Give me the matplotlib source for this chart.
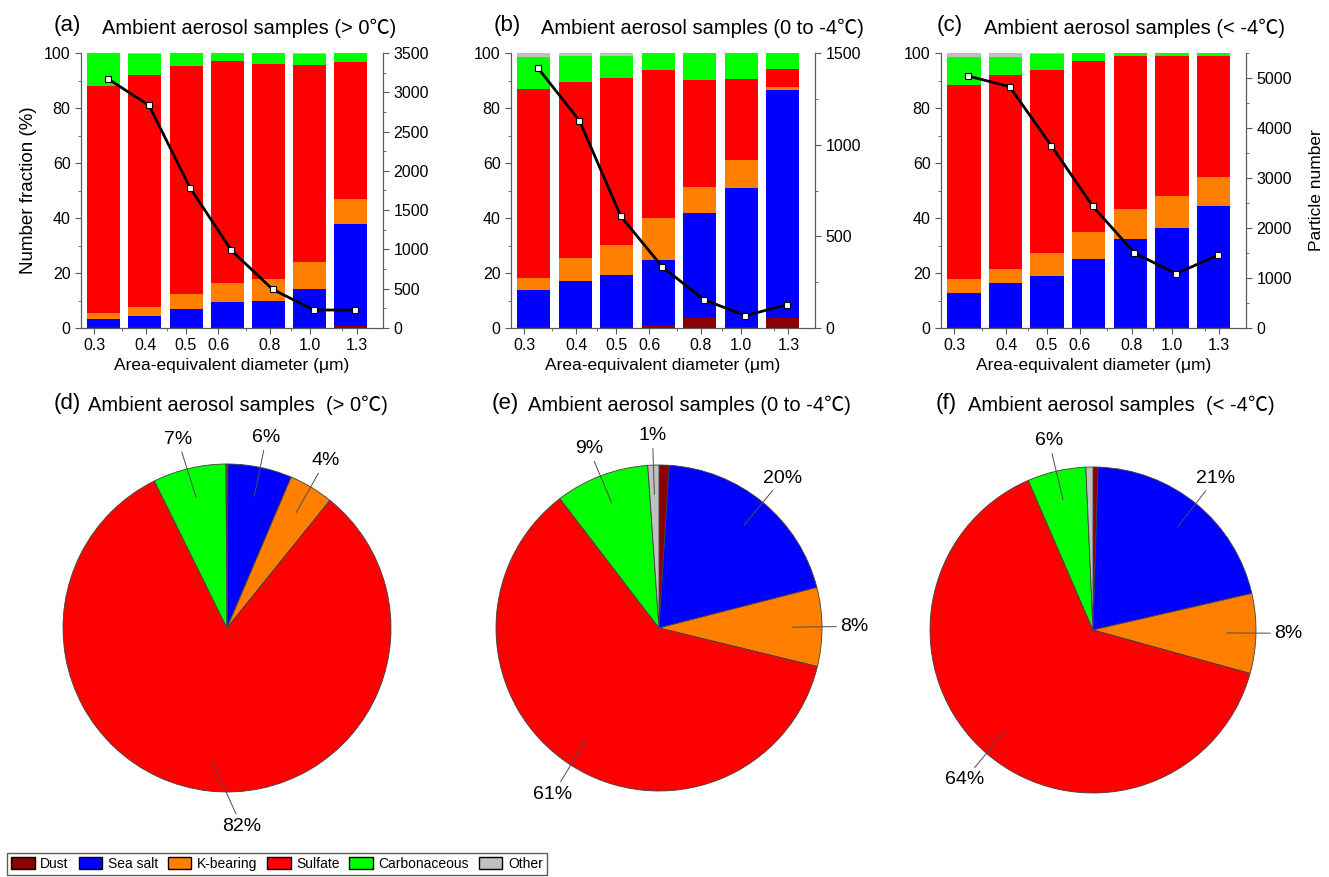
import numpy as np
import matplotlib
matplotlib.use('Agg')
import matplotlib.pyplot as plt
from matplotlib.patches import Patch
from matplotlib.ticker import MultipleLocator

plt.rcParams['font.family'] = ['Liberation Sans', 'Noto Sans CJK SC', 'DejaVu Sans']

components = ['Dust', 'Sea salt', 'K-bearing', 'Sulfate', 'Carbonaceous', 'Other']
colors = ['#8b0000', '#0000ff', '#ff8000', '#ff0000', '#00ff00', '#c0c0c0']

diam_labels = ['0.3', '0.4', '0.5', '0.6', '0.8', '1.0', '1.3']
diam_ticks = [0.3, 0.4, 0.5, 0.6, 0.8, 1.0, 1.3]
diam_minor = [0.35, 0.45, 0.7, 0.9, 1.2]

# number fraction (%) per size bin, one row per component (same order as components)
frac_a = [
    [0.3, 0.2, 0.2, 0.2, 0.2, 0.2, 0.8],
    [3.1, 4.0, 6.7, 9.3, 9.5, 13.9, 37.1],
    [2.1, 3.4, 5.3, 7.0, 8.2, 9.9, 9.1],
    [82.4, 84.3, 83.0, 80.5, 78.2, 71.8, 49.7],
    [12.1, 7.8, 4.8, 3.0, 3.9, 4.0, 3.3],
    [0.0, 0.3, 0.0, 0.0, 0.0, 0.2, 0.0],
]
frac_b = [
    [0.5, 0.3, 0.5, 1.2, 3.6, 0.3, 3.6],
    [13.4, 16.7, 18.7, 23.6, 38.2, 50.6, 82.8],
    [4.3, 8.5, 10.9, 15.2, 9.5, 10.3, 1.2],
    [68.8, 64.0, 60.8, 53.7, 39.0, 29.3, 6.6],
    [11.4, 9.3, 8.1, 6.3, 9.7, 9.5, 5.8],
    [1.6, 1.2, 1.0, 0.0, 0.0, 0.0, 0.0],
]
frac_c = [
    [0.2, 0.2, 0.2, 0.5, 0.2, 0.2, 0.3],
    [12.5, 16.0, 18.6, 24.6, 32.2, 36.2, 43.9],
    [5.1, 5.4, 8.5, 9.7, 10.9, 11.7, 10.7],
    [70.4, 70.5, 66.4, 62.2, 55.5, 50.7, 44.1],
    [10.3, 6.4, 6.1, 3.0, 1.2, 1.2, 1.0],
    [1.5, 1.5, 0.2, 0.0, 0.0, 0.0, 0.0],
]

# particle number per size bin
count_a = [3173, 2834, 1782, 988, 492, 229, 229]
count_b = [1418, 1131, 609, 333, 155, 67, 127]
count_c = [5040, 4827, 3647, 2433, 1500, 1087, 1453]

# overall composition (%)
pie_d = [0.1, 6.3, 4.4, 81.9, 7.2, 0.1]
pie_e = [1.0, 20.0, 7.8, 60.8, 9.3, 1.1]
pie_f = [0.5, 20.9, 7.9, 64.2, 5.8, 0.7]

fig = plt.figure(figsize=(13.29, 8.77), dpi=100)
W, H = 1329, 877


def px_axes(x0, y0, x1, y1):
    return fig.add_axes([x0 / W, 1 - y1 / H, (x1 - x0) / W, (y1 - y0) / H])


def bar_panel(ax, frac, counts, ymax2, major2, minor2):
    x = np.arange(len(counts))
    bottom = np.zeros(len(counts))
    for vals, c in zip(frac, colors):
        ax.bar(x, vals, width=0.8, bottom=bottom, color=c, linewidth=0)
        bottom += np.array(vals)
    ax.set_xlim(-0.55, 6.78)
    ax.set_ylim(0, 100)
    ax.set_xticks([5 + 10 * np.log10(d) for d in diam_ticks])
    ax.set_xticklabels(diam_labels)
    ax.set_xticks([5 + 10 * np.log10(d) for d in diam_minor], minor=True)
    ax.yaxis.set_major_locator(MultipleLocator(20))
    ax.yaxis.set_minor_locator(MultipleLocator(10))
    ax.set_xlabel('Area-equivalent diameter (μm)', fontsize=12.5, labelpad=3)

    ax2 = ax.twinx()
    ax2.plot(x + 0.1, counts, color='black', lw=2, marker='s', ms=5,
             mfc='white', mec='black', mew=0.8)
    ax2.set_ylim(0, ymax2)
    ax2.yaxis.set_major_locator(MultipleLocator(major2))
    ax2.yaxis.set_minor_locator(MultipleLocator(minor2))

    for a in (ax, ax2):
        a.spines['top'].set_visible(False)
        for s in a.spines.values():
            s.set_color('0.35')
        a.tick_params(which='both', direction='out', colors='0.35',
                      labelcolor='black', labelsize=11.5)
        a.tick_params(which='major', length=4)
        a.tick_params(which='minor', length=2)
    return ax2


ax_a = px_axes(81, 53, 383, 328)
bar_panel(ax_a, frac_a, count_a, 3500, 500, 250)
ax_a.set_ylabel('Number fraction (%)', fontsize=13.5, labelpad=5)

ax_b = px_axes(511, 53, 815, 328)
bar_panel(ax_b, frac_b, count_b, 1500, 500, 250)

ax_c = px_axes(941, 53, 1246, 328)
ax_c2 = bar_panel(ax_c, frac_c, count_c, 5500, 1000, 500)
ax_c2.set_ylabel('Particle number', fontsize=12.5, labelpad=12)

titles_top = [
    ('(a)', 67, 'Ambient aerosol samples (> 0℃)', 249),
    ('(b)', 507, 'Ambient aerosol samples (0 to -4℃)', 702),
    ('(c)', 950, 'Ambient aerosol samples (< -4℃)', 1134),
]
for lab, lx, txt, tx in titles_top:
    fig.text(lx / W, 1 - 25 / H, lab, fontsize=16, ha='center', va='center')
    fig.text(tx / W, 1 - 28 / H, txt, fontsize=14.5, ha='center', va='center')

titles_pie = [
    ('(d)', 67, 'Ambient aerosol samples  (> 0℃)', 238),
    ('(e)', 505, 'Ambient aerosol samples (0 to -4℃)', 689),
    ('(f)', 946, 'Ambient aerosol samples  (< -4℃)', 1121),
]
for lab, lx, txt, tx in titles_pie:
    fig.text(lx / W, 1 - 404 / H, lab, fontsize=16, ha='center', va='center')
    fig.text(tx / W, 1 - 405 / H, txt, fontsize=14.5, ha='center', va='center')

# label anchor points (pie radius units) for the labelled slices
label_pos_d = {1: (0.24, 1.16), 2: (0.60, 1.02), 3: (0.09, -1.21), 4: (-0.30, 1.15)}
label_pos_e = {1: (0.76, 0.92), 2: (1.20, 0.01), 3: (-0.65, -1.02), 4: (-0.43, 1.10), 5: (-0.04, 1.18)}
label_pos_f = {1: (0.75, 0.93), 2: (1.20, -0.02), 3: (-0.79, -0.92), 4: (-0.27, 1.16)}


def pie_panel(cx, cy, r, vals, label_pos):
    ax = px_axes(cx - r, cy - r, cx + r, cy + r)
    ax.pie(vals, colors=colors, startangle=90, counterclock=False,
           wedgeprops=dict(edgecolor='0.25', linewidth=0.6))
    ax.set_xlim(-1, 1)
    ax.set_ylim(-1, 1)
    ax.set_aspect('equal')
    cum = np.cumsum([0] + list(vals))
    for i, (tx, ty) in label_pos.items():
        ang = np.deg2rad(90 - 3.6 * (cum[i] + vals[i] / 2))
        ax.annotate(f'{round(vals[i])}%', xy=(0.82 * np.cos(ang), 0.82 * np.sin(ang)),
                    xytext=(tx, ty), ha='center', va='center', fontsize=14,
                    annotation_clip=False,
                    arrowprops=dict(arrowstyle='-', color='0.3', lw=0.7,
                                    shrinkA=1, shrinkB=0))


pie_panel(227, 628, 164, pie_d, label_pos_d)
pie_panel(659, 628, 163, pie_e, label_pos_e)
pie_panel(1093, 630, 163, pie_f, label_pos_f)

handles = [Patch(facecolor=c, edgecolor='black', linewidth=1.0) for c in colors]
fig.legend(handles, components, loc='lower left', bbox_to_anchor=(7 / W, 2 / H),
           ncol=6, fontsize=10, frameon=True, fancybox=False, edgecolor='0.2',
           handlelength=1.7, handleheight=1.0, handletextpad=0.4, columnspacing=0.7,
           borderpad=0.3, borderaxespad=0)

fig.savefig('out.png', dpi=100)
